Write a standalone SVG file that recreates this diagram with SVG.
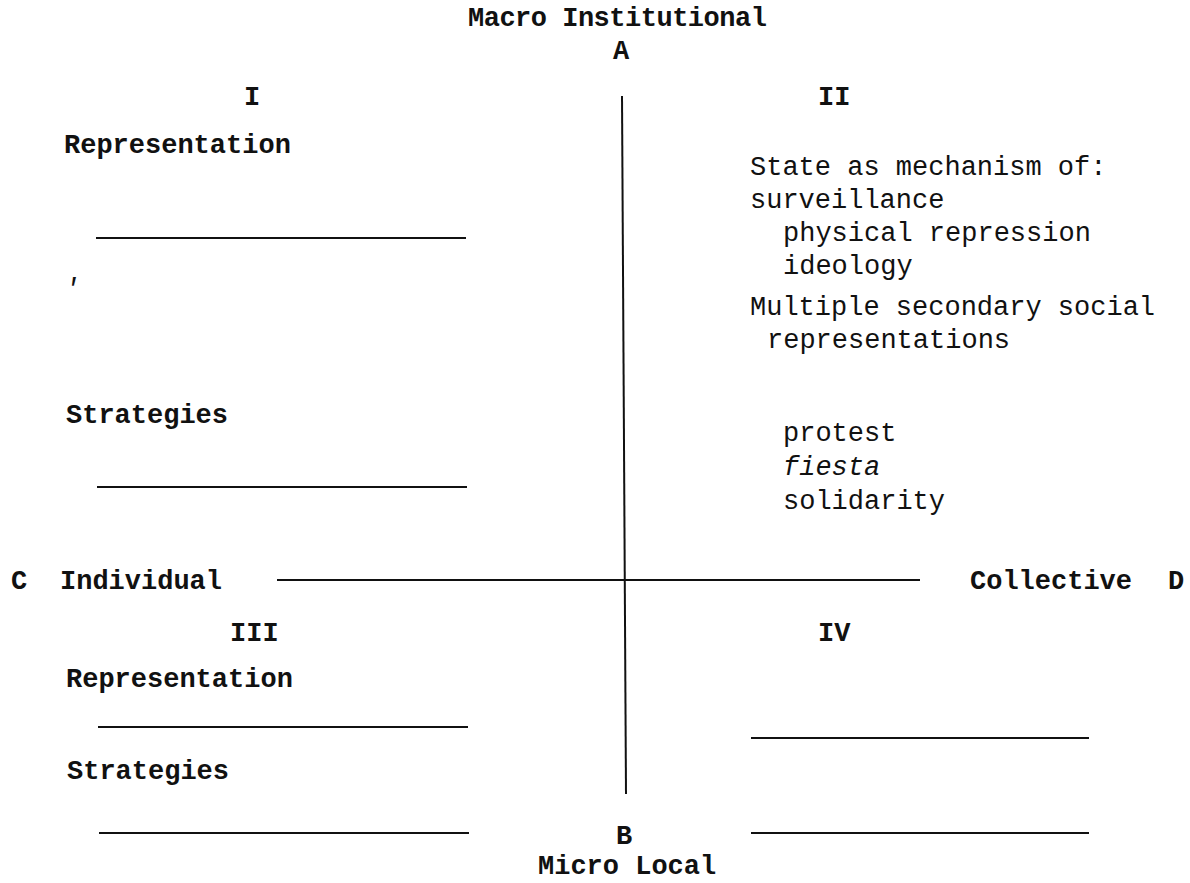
<svg xmlns="http://www.w3.org/2000/svg" width="1190" height="883" viewBox="0 0 1190 883">
  <style>
    text { font-family: "Liberation Mono", "Courier New", monospace; font-size: 27px; fill: #111; }
    .b { font-weight: bold; }
    .i { font-style: italic; }
    line { stroke: #111; stroke-width: 2; }
  </style>
  <rect width="1190" height="883" fill="#fff"/>

  <!-- axes -->
  <g id="connectors">
    <line x1="622" y1="96" x2="626" y2="794"/>
    <line x1="277" y1="580" x2="920" y2="580"/>
  </g>

  <!-- axis poles -->
  <g id="pole-A">
    <text class="b" x="468" y="26" letter-spacing="-0.5">Macro Institutional</text>
    <text class="b" x="613" y="59">A</text>
  </g>
  <g id="pole-B">
    <text class="b" x="616" y="844">B</text>
    <text class="b" x="538" y="874">Micro Local</text>
  </g>
  <g id="pole-C">
    <text class="b" x="11" y="589">C</text>
    <text class="b" x="60" y="589">Individual</text>
  </g>
  <g id="pole-D">
    <text class="b" x="970" y="589">Collective</text>
    <text class="b" x="1168" y="589">D</text>
  </g>

  <!-- quadrant I -->
  <g id="quadrant-I">
    <text class="b" x="244" y="105">I</text>
    <text class="b" x="64" y="153">Representation</text>
    <line x1="96" y1="238" x2="466" y2="238"/>
    <text class="i" x="64" y="297">'</text>
    <text class="b" x="66" y="423">Strategies</text>
    <line x1="97" y1="487" x2="467" y2="487"/>
  </g>

  <!-- quadrant II -->
  <g id="quadrant-II">
    <text class="b" x="818" y="105">II</text>
    <text x="750" y="175">State as mechanism of:</text>
    <text x="750" y="208">surveillance</text>
    <text x="783" y="241">physical repression</text>
    <text x="783" y="274">ideology</text>
    <text x="750" y="315">Multiple secondary social</text>
    <text x="767" y="348">representations</text>
    <text x="783" y="441">protest</text>
    <text class="i" x="783" y="475">fiesta</text>
    <text x="783" y="509">solidarity</text>
  </g>

  <!-- quadrant III -->
  <g id="quadrant-III">
    <text class="b" x="230" y="641">III</text>
    <text class="b" x="66" y="687">Representation</text>
    <line x1="98" y1="727" x2="468" y2="727"/>
    <text class="b" x="67" y="779">Strategies</text>
    <line x1="99" y1="833" x2="469" y2="833"/>
  </g>

  <!-- quadrant IV -->
  <g id="quadrant-IV">
    <text class="b" x="818" y="641">IV</text>
    <line x1="751" y1="738" x2="1089" y2="738"/>
    <line x1="751" y1="833" x2="1089" y2="833"/>
  </g>
</svg>
